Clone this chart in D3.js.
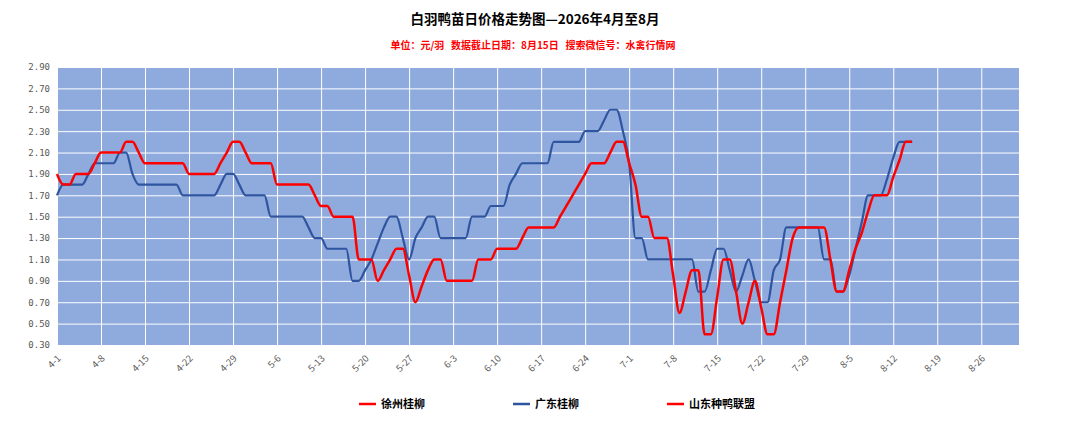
<!DOCTYPE html>
<html>
<head>
<meta charset="utf-8">
<script src="https://cdn.jsdelivr.net/npm/d3@7/dist/d3.min.js"></script>
<style>
  body { margin: 0; background: #fff; }
  text { font-family: "Noto Sans CJK SC", "DejaVu Sans", sans-serif; }
</style>
</head>
<body>
<div id="chart"></div>
<script>
// daily prices from 4-1 (index 0) to 8-15 (index 136), yuan per bird
var xuzhou = [
  1.9, 1.8, 1.8, 1.9, 1.9, 1.9, 2.0, 2.1, 2.1, 2.1,
  2.1, 2.2, 2.2, 2.1, 2.0, 2.0, 2.0, 2.0, 2.0, 2.0,
  2.0, 1.9, 1.9, 1.9, 1.9, 1.9, 2.0, 2.1, 2.2, 2.2,
  2.1, 2.0, 2.0, 2.0, 2.0, 1.8, 1.8, 1.8, 1.8, 1.8,
  1.8, 1.7, 1.6, 1.6, 1.5, 1.5, 1.5, 1.5, 1.1, 1.1,
  1.1, 0.9, 1.0, 1.1, 1.2, 1.2, 0.95, 0.7, 0.85, 1.0,
  1.1, 1.1, 0.9, 0.9, 0.9, 0.9, 0.9, 1.1, 1.1, 1.1,
  1.2, 1.2, 1.2, 1.2, 1.3, 1.4, 1.4, 1.4, 1.4, 1.4,
  1.5, 1.6, 1.7, 1.8, 1.9, 2.0, 2.0, 2.0, 2.1, 2.2,
  2.2, 2.0, 1.8, 1.5, 1.5, 1.3, 1.3, 1.3, 0.95, 0.6,
  0.8, 1.0, 1.0, 0.4, 0.4, 0.75, 1.1, 1.1, 0.8, 0.5,
  0.7, 0.9, 0.65, 0.4, 0.4, 0.7, 1.0, 1.3, 1.4, 1.4,
  1.4, 1.4, 1.4, 1.1, 0.8, 0.8, 1.0, 1.2, 1.35, 1.55,
  1.7, 1.7, 1.7, 1.87, 2.03, 2.2, 2.2
]
var guangdong = [
  1.7, 1.8, 1.8, 1.8, 1.8, 1.9, 2.0, 2.0, 2.0, 2.0,
  2.1, 2.1, 1.9, 1.8, 1.8, 1.8, 1.8, 1.8, 1.8, 1.8,
  1.7, 1.7, 1.7, 1.7, 1.7, 1.7, 1.8, 1.9, 1.9, 1.8,
  1.7, 1.7, 1.7, 1.7, 1.5, 1.5, 1.5, 1.5, 1.5, 1.5,
  1.4, 1.3, 1.3, 1.2, 1.2, 1.2, 1.2, 0.9, 0.9, 1.0,
  1.1, 1.25, 1.4, 1.5, 1.5, 1.3, 1.1, 1.3, 1.4, 1.5,
  1.5, 1.3, 1.3, 1.3, 1.3, 1.3, 1.5, 1.5, 1.5, 1.6,
  1.6, 1.6, 1.8, 1.9, 2.0, 2.0, 2.0, 2.0, 2.0, 2.2,
  2.2, 2.2, 2.2, 2.2, 2.3, 2.3, 2.3, 2.4, 2.5, 2.5,
  2.3, 2.0, 1.3, 1.3, 1.1, 1.1, 1.1, 1.1, 1.1, 1.1,
  1.1, 1.1, 0.8, 0.8, 1.0, 1.2, 1.2, 1.0, 0.8, 0.95,
  1.1, 0.9, 0.7, 0.7, 1.0, 1.1, 1.4, 1.4, 1.4, 1.4,
  1.4, 1.4, 1.1, 1.1, 0.8, 0.8, 0.95, 1.2, 1.45, 1.7,
  1.7, 1.7, 1.85, 2.05, 2.2, 2.2, 2.2
]
var shandong = []   // legend only, no points visible in the picture

var seriesNames = ["徐州桂柳", "广东桂柳", "山东种鸭联盟"]
var tickLabels = ["4-1","4-8","4-15","4-22","4-29","5-6","5-13","5-20","5-27","6-3","6-10",
                  "6-17","6-24","7-1","7-8","7-15","7-22","7-29","8-5","8-12","8-19","8-26"]
var yTicks = [0.3, 0.5, 0.7, 0.9, 1.1, 1.3, 1.5, 1.7, 1.9, 2.1, 2.3, 2.5, 2.7, 2.9]
var lastDay = 153   // axis runs to 9-1

var series = [
  {name: seriesNames[0], values: xuzhou, color: "#ff0000", w: 2.5},
  {name: seriesNames[1], values: guangdong, color: "#2f55a0", w: 2.2},
  {name: seriesNames[2], values: shandong, color: "#ff0000", w: 2.5}
]

var margin = {top: 67, right: 61, bottom: 84, left: 57},
    width = 1080 - margin.left - margin.right,
    height = 429 - margin.top - margin.bottom

var x = d3.scaleLinear().domain([0, lastDay]).range([0, width])
var y = d3.scaleLinear().domain([0.3, 2.9]).range([height, 0])

var root = d3.select("#chart").append("svg")
  .attr("width", 1080)
  .attr("height", 429)

root.append("text")
  .attr("x", 535).attr("y", 24)
  .attr("text-anchor", "middle")
  .style("font-size", "13.5px").style("font-weight", "bold").attr("fill", "#000")
  .text("白羽鸭苗日价格走势图—2026年4月至8月")

root.append("text")
  .attr("x", 533).attr("y", 49)
  .attr("text-anchor", "middle")
  .style("font-size", "10px").style("font-weight", "bold").attr("fill", "#ff0000")
  .attr("xml:space", "preserve")
  .text("单位：元/羽   数据截止日期：8月15日   搜索微信号：水禽行情网")

var svg = root.append("g")
  .attr("transform", "translate(" + margin.left + "," + margin.top + ")")

svg.append("rect")
  .attr("width", width).attr("height", height)
  .attr("fill", "#8faadc")

// horizontal grid + y labels
var yAxis = d3.axisLeft(y)
  .tickValues(yTicks)
  .tickSize(-width)
  .tickFormat(d3.format(".2f"))

svg.append("g")
  .attr("class", "y axis")
  .call(yAxis)
  .call(g => g.select(".domain").remove())
  .call(g => g.selectAll(".tick line").attr("stroke", "#fff").attr("stroke-width", 1))
  .call(g => g.selectAll(".tick text").attr("x", -7).attr("fill", "#595959")
    .style("font-size", "9px").style("font-family", "'DejaVu Sans Mono', monospace"))

// vertical grid + rotated date labels
var xAxis = d3.axisBottom(x)
  .tickValues(tickLabels.map((t, i) => i * 7))
  .tickSize(-height)
  .tickFormat((d, i) => tickLabels[i])

svg.append("g")
  .attr("class", "x axis")
  .attr("transform", "translate(0," + height + ")")
  .call(xAxis)
  .call(g => g.select(".domain").remove())
  .call(g => g.selectAll(".tick line").attr("stroke", "#fff").attr("stroke-width", 1))
  .call(g => g.selectAll(".tick text")
    .attr("fill", "#595959")
    .style("font-size", "9.5px")
    .attr("text-anchor", "end")
    .attr("dy", null).attr("y", null)
    .attr("transform", "translate(4,14) rotate(-45)"))

var line = d3.line()
  .x((d, i) => x(i))
  .y(d => y(d))
  .curve(d3.curveMonotoneX)

// blue first so red sits on top
;[series[1], series[0], series[2]].forEach(s => {
  if (!s.values.length) return
  svg.append("path")
    .datum(s.values)
    .attr("fill", "none")
    .attr("stroke", s.color)
    .attr("stroke-width", s.w)
    .attr("stroke-linejoin", "round")
    .attr("d", line)
})

// legend
var legend = root.append("g").attr("transform", "translate(359,404)")
var item = legend.selectAll("g")
  .data(series)
  .enter().append("g")
  .attr("transform", (d, i) => "translate(" + i * 154 + ",0)")

item.append("line")
  .attr("x1", 0).attr("x2", 17)
  .attr("stroke", d => d.color)
  .attr("stroke-width", 2.5)

item.append("text")
  .attr("x", 22).attr("y", 4)
  .style("font-size", "11px").style("font-weight", "bold").attr("fill", "#000")
  .text(d => d.name)
</script>
</body>
</html>
